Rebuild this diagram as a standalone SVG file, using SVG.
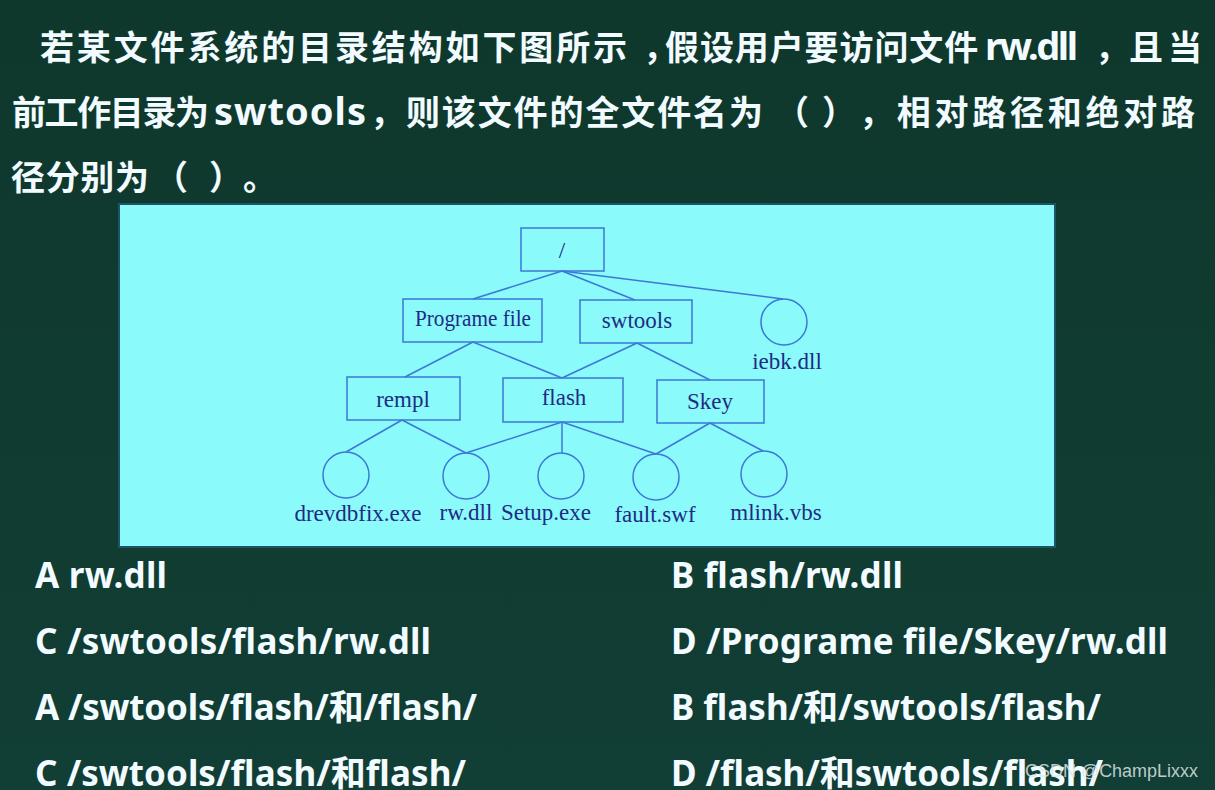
<svg xmlns="http://www.w3.org/2000/svg" width="1215" height="790" viewBox="0 0 1215 790">
<defs>
<linearGradient id="bg" x1="0" y1="0" x2="0" y2="1">
<stop offset="0" stop-color="#0f382c"/>
<stop offset="1" stop-color="#113e35"/>
</linearGradient>
<style>
.q{font-family:"Noto Sans CJK SC","Noto Sans",sans-serif;font-weight:bold;font-size:34px;fill:#f2fbff}
.ql{font-family:"Noto Sans","Noto Sans CJK SC",sans-serif;font-weight:bold;font-size:38px;fill:#f2fbff}
.o{font-family:"Noto Sans","Noto Sans CJK SC",sans-serif;font-weight:bold;font-size:35px;fill:#f2fbff}
.box{fill:none;stroke:#3c78d6;stroke-width:1.5}
.t{font-family:"Liberation Serif","Times New Roman",serif;font-size:23px;fill:#1d2c82;text-anchor:middle}
.e{stroke:#3c78d6;stroke-width:1.5;fill:none}
.wm{font-family:"Liberation Sans",Arial,sans-serif;font-size:18px;fill:#dfe6e6;fill-opacity:0.85}
</style>
</defs>
<rect x="0" y="0" width="1215" height="790" fill="url(#bg)"/>
<g id="question">
<text class="q" x="40" y="60" textLength="587" lengthAdjust="spacing">若某文件系统的目录结构如下图所示</text>
<text class="q" x="643" y="60">，<tspan dx="-12" letter-spacing="0.9">假设用户要访问文件</tspan></text>
<text class="ql" x="985" y="60" font-size="35" textLength="93" lengthAdjust="spacing">rw.dll</text>
<text class="q" x="1095" y="60">，</text>
<text class="q" x="1129" y="60" textLength="73" lengthAdjust="spacing">且当</text>

<text class="q" x="12" y="125" textLength="197" lengthAdjust="spacing">前工作目录为</text>
<text class="ql" x="214" y="125" font-size="40" textLength="152" lengthAdjust="spacing">swtools</text>
<text class="q" x="370" y="125" textLength="393" lengthAdjust="spacing">，则该文件的全文件名为</text>
<text class="q" x="775" y="125">（</text>
<text class="q" x="822" y="125">）</text>
<text class="q" x="859" y="125" textLength="336" lengthAdjust="spacing">，相对路径和绝对路</text>

<text class="q" x="11" y="190" textLength="138" lengthAdjust="spacing">径分别为</text>
<text class="q" x="154" y="190">（</text>
<text class="q" x="209" y="190">）</text>
<text class="q" x="243" y="190">。</text>
</g>
<rect id="panel" x="119" y="204" width="936" height="343" fill="#8bfafb" stroke="#1d5566" stroke-width="2"/>
<g id="connectors">
<line class="e" x1="562" y1="271" x2="473" y2="299"/>
<line class="e" x1="562" y1="271" x2="635" y2="300"/>
<line class="e" x1="562" y1="271" x2="783" y2="299"/>
<line class="e" x1="473" y1="342" x2="405" y2="377"/>
<line class="e" x1="473" y1="342" x2="562" y2="378"/>
<line class="e" x1="637" y1="343" x2="562" y2="378"/>
<line class="e" x1="637" y1="343" x2="710" y2="380"/>
<line class="e" x1="402" y1="420" x2="346" y2="452"/>
<line class="e" x1="402" y1="420" x2="466" y2="453"/>
<line class="e" x1="562" y1="422" x2="466" y2="453"/>
<line class="e" x1="562" y1="422" x2="562" y2="453"/>
<line class="e" x1="562" y1="422" x2="656" y2="454"/>
<line class="e" x1="710" y1="423" x2="656" y2="454"/>
<line class="e" x1="710" y1="423" x2="763" y2="451"/>
</g>
<g id="root"><rect class="box" x="521" y="228" width="83" height="43"/><text class="t" x="562" y="258" font-size="18">/</text></g>
<g id="programe-file"><rect class="box" x="403" y="299" width="139" height="43"/><text class="t" x="473" y="326" textLength="116" lengthAdjust="spacingAndGlyphs">Programe file</text></g>
<g id="swtools"><rect class="box" x="580" y="300" width="112" height="43"/><text class="t" x="637" y="328">swtools</text></g>
<g id="iebk"><circle class="box" cx="784" cy="322" r="23"/><text class="t" x="787" y="369">iebk.dll</text></g>
<g id="rempl"><rect class="box" x="347" y="377" width="113" height="43"/><text class="t" x="403" y="407">rempl</text></g>
<g id="flash"><rect class="box" x="503" y="378" width="120" height="44"/><text class="t" x="564" y="405">flash</text></g>
<g id="skey"><rect class="box" x="657" y="380" width="107" height="43"/><text class="t" x="710" y="409">Skey</text></g>
<g id="drevdbfix"><circle class="box" cx="346" cy="475" r="23"/><text class="t" x="358" y="521">drevdbfix.exe</text></g>
<g id="rwdll"><circle class="box" cx="466" cy="476" r="23"/><text class="t" x="466" y="520">rw.dll</text></g>
<g id="setup"><circle class="box" cx="561" cy="476" r="23"/><text class="t" x="546" y="520">Setup.exe</text></g>
<g id="fault"><circle class="box" cx="656" cy="477" r="23"/><text class="t" x="655" y="522">fault.swf</text></g>
<g id="mlink"><circle class="box" cx="764" cy="474" r="23"/><text class="t" x="776" y="520">mlink.vbs</text></g>
<g id="options">
<text class="o" x="35" y="588" textLength="132" lengthAdjust="spacing">A rw.dll</text>
<text class="o" x="35" y="654" textLength="396" lengthAdjust="spacing">C /swtools/flash/rw.dll</text>
<text class="o" x="35" y="720" textLength="442" lengthAdjust="spacing">A /swtools/flash/和/flash/</text>
<text class="o" x="35" y="786" textLength="431" lengthAdjust="spacing">C /swtools/flash/和flash/</text>
<text class="o" x="671" y="588" textLength="232" lengthAdjust="spacing">B flash/rw.dll</text>
<text class="o" x="671" y="654" textLength="497" lengthAdjust="spacing">D /Programe file/Skey/rw.dll</text>
<text class="o" x="671" y="720" textLength="430" lengthAdjust="spacing">B flash/和/swtools/flash/</text>
<text class="o" x="671" y="786" textLength="432" lengthAdjust="spacing">D /flash/和swtools/flash/</text>
</g>
<text class="wm" x="1025" y="777" textLength="173" lengthAdjust="spacingAndGlyphs">CSDN @ChampLixxx</text>
</svg>
